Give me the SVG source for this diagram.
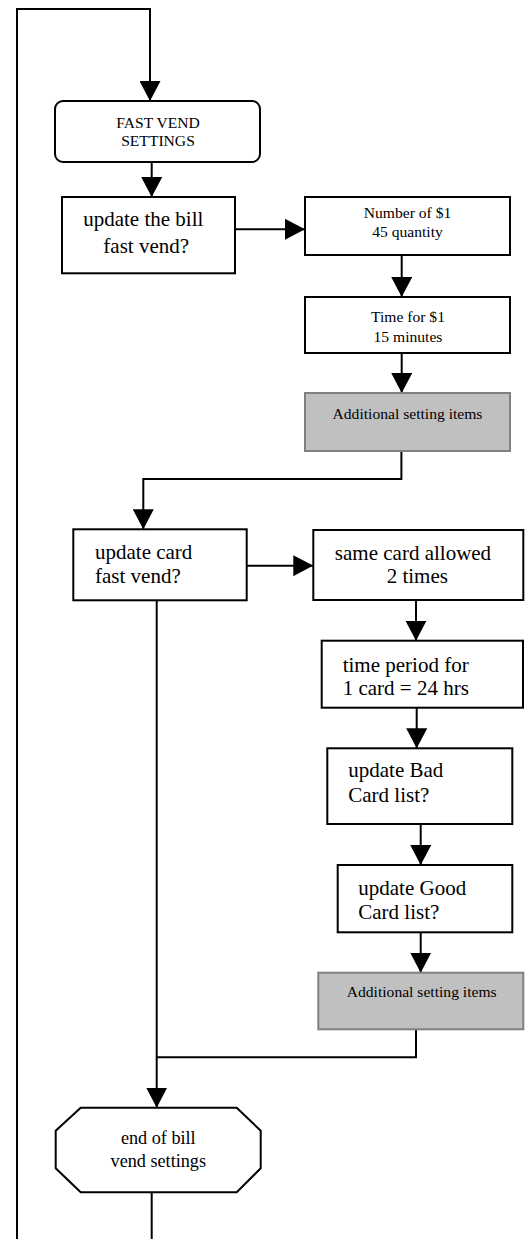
<svg xmlns="http://www.w3.org/2000/svg" width="530" height="1239" viewBox="0 0 530 1239">
  <style>
    .box { fill: #ffffff; stroke: #000000; stroke-width: 2; }
    .gray { fill: #c0c0c0; stroke: #808080; stroke-width: 2; }
    .big { font-family: "Liberation Serif", "Times New Roman", serif; font-size: 21px; fill: #000000; }
    .small { font-family: "Liberation Serif", "Times New Roman", serif; font-size: 15.6px; fill: #000000; }
    .mid { font-family: "Liberation Serif", "Times New Roman", serif; font-size: 18.2px; fill: #000000; }
    .c { text-anchor: middle; }
    .wire { fill: none; stroke: #000000; stroke-width: 2; }
  </style>
  <defs>
    <marker id="arrow" viewBox="0 0 20 21" markerUnits="userSpaceOnUse" markerWidth="20" markerHeight="21" refX="20" refY="10.5" orient="auto">
      <path d="M0,0 L20,10.5 L0,21 z" fill="#000000"/>
    </marker>
  </defs>

  <!-- connectors -->
  <g id="connectors">
    <path class="wire" d="M17,1239 V9 H150 V101" marker-end="url(#arrow)"/>
    <path class="wire" d="M151.7,162 V197" marker-end="url(#arrow)"/>
    <path class="wire" d="M235,229.3 H305" marker-end="url(#arrow)"/>
    <path class="wire" d="M401.7,255 V297" marker-end="url(#arrow)"/>
    <path class="wire" d="M401.7,353 V393" marker-end="url(#arrow)"/>
    <path class="wire" d="M401.4,451 V479 H143.3 V529.3" marker-end="url(#arrow)"/>
    <path class="wire" d="M246.7,565.7 H313.3" marker-end="url(#arrow)"/>
    <path class="wire" d="M416,600 V640.7" marker-end="url(#arrow)"/>
    <path class="wire" d="M416.7,707.7 V748.3" marker-end="url(#arrow)"/>
    <path class="wire" d="M420.7,824 V865" marker-end="url(#arrow)"/>
    <path class="wire" d="M420.7,932.3 V972.7" marker-end="url(#arrow)"/>
    <path class="wire" d="M416,1029.3 V1057.3 H156.7"/>
    <path class="wire" d="M156.7,600.3 V1107.7" marker-end="url(#arrow)"/>
    <path class="wire" d="M151.7,1192.3 V1239"/>
  </g>

  <g id="fast-vend-settings">
    <rect class="box" x="55" y="101" width="205" height="61" rx="8" ry="8"/>
    <text class="small c" x="158" y="128.3">FAST VEND</text>
    <text class="small c" x="158" y="145.7">SETTINGS</text>
  </g>

  <g id="update-bill">
    <rect class="box" x="62" y="197" width="173" height="76.3"/>
    <text class="big c" x="143.3" y="226">update the bill</text>
    <text class="big c" x="146.2" y="253">fast vend?</text>
  </g>

  <g id="number-of-bills">
    <rect class="box" x="305" y="197" width="205" height="58"/>
    <text class="small c" x="407.5" y="218">Number of $1</text>
    <text class="small c" x="407.5" y="237">45 quantity</text>
  </g>

  <g id="time-for-bill">
    <rect class="box" x="305" y="297" width="205" height="56"/>
    <text class="small c" x="408" y="322">Time for $1</text>
    <text class="small c" x="408" y="342">15 minutes</text>
  </g>

  <g id="additional-bill">
    <rect class="gray" x="305" y="393" width="205" height="58"/>
    <text class="small c" x="407.5" y="419">Additional setting items</text>
  </g>

  <g id="update-card">
    <rect class="box" x="73.3" y="529.3" width="173.4" height="71"/>
    <text class="big" x="95" y="559.3">update card</text>
    <text class="big" x="95" y="583.3">fast vend?</text>
  </g>

  <g id="same-card">
    <rect class="box" x="313.3" y="530" width="210" height="70"/>
    <text class="big c" x="413" y="560">same card allowed</text>
    <text class="big c" x="417.3" y="582.7">2 times</text>
  </g>

  <g id="time-period">
    <rect class="box" x="321.7" y="640.7" width="201.3" height="67"/>
    <text class="big" x="342.7" y="671.7">time period for</text>
    <text class="big" x="342.7" y="695">1 card = 24 hrs</text>
  </g>

  <g id="bad-card-list">
    <rect class="box" x="327.3" y="748.3" width="185" height="75.7"/>
    <text class="big" x="348.3" y="776.7">update Bad</text>
    <text class="big" x="348.3" y="802.3">Card list?</text>
  </g>

  <g id="good-card-list">
    <rect class="box" x="337.7" y="865" width="174.6" height="67.3"/>
    <text class="big" x="358.3" y="895">update Good</text>
    <text class="big" x="358.3" y="919.3">Card list?</text>
  </g>

  <g id="additional-card">
    <rect class="gray" x="318.3" y="972.7" width="205" height="56.6"/>
    <text class="small c" x="421.7" y="996.7">Additional setting items</text>
  </g>

  <g id="end-bill-vend">
    <polygon class="box" points="80.7,1107.7 236.7,1107.7 260.7,1130.7 260.7,1168.3 236.7,1192.3 80.7,1192.3 55.7,1168.3 55.7,1130.7"/>
    <text class="mid c" x="158.3" y="1144">end of bill</text>
    <text class="mid c" x="158.3" y="1166.7">vend settings</text>
  </g>
</svg>
